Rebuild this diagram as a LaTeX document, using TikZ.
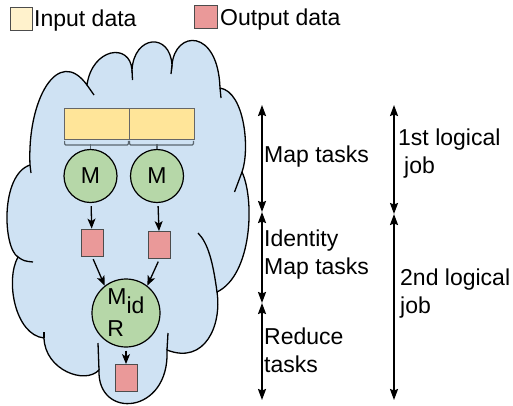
\documentclass[tikz,border=0pt]{standalone}
\usepackage{fontspec}
\setmainfont{Liberation Sans}
\usetikzlibrary{arrows.meta}
\definecolor{cloudblue}{HTML}{CFE2F3}
\definecolor{keyyellow}{HTML}{FFF2CC}
\definecolor{datayellow}{HTML}{FFE599}
\definecolor{outred}{HTML}{EA9999}
\definecolor{taskgreen}{HTML}{B6D7A8}
\definecolor{bracketgray}{HTML}{5B6770}
\begin{document}
\begin{tikzpicture}[x=1pt, y=1pt,
  font=\fontsize{23}{27.5}\selectfont,
  label/.style={anchor=base west, inner sep=0, align=left},
  datain/.style={draw=black!60, line width=0.8pt, fill=datayellow, minimum width=65pt, minimum height=31pt, inner sep=0},
  dataout/.style={draw=black!70, line width=0.8pt, fill=outred, minimum width=22pt, minimum height=27pt, inner sep=0},
  task/.style={circle, draw, line width=1.2pt, fill=taskgreen, inner sep=0, align=left},
  flow/.style={-{Stealth[length=10pt, width=8pt, inset=2.5pt]}, line width=1.3pt, shorten <=3pt},
  span/.style={{Stealth[length=11pt, width=8pt, inset=1.5pt]}-{Stealth[length=11pt, width=8pt, inset=1.5pt]}, line width=1.6pt},
  bracket/.style={draw=bracketgray, line width=1.2pt, rounded corners=1pt}]
\useasboundingbox (0,0) rectangle (513,-405);

% legend
\node[draw=black!70, line width=0.8pt, fill=keyyellow, minimum width=22pt, minimum height=23pt, inner sep=0] (keyin) at (21,-18.5) {};
\node[label] (keyintext) at (34,-26) {Input data};
\node[dataout, minimum height=23pt, minimum width=23pt] (keyout) at (205.5,-16.5) {};
\node[label] (keyouttext) at (220,-25) {Output data};

% cloud
\draw[fill=cloudblue, line width=1.3pt] (30,-165)
  .. controls (27,-100) and (58,-45) .. (87,-85)
  .. controls (92,-48) and (130,-42) .. (132,-70)
  .. controls (134,-35) and (170,-32) .. (172,-65)
  .. controls (175,-30) and (218,-28) .. (220,-88)
  .. controls (245,-92) and (250,-150) .. (242,-172)
  .. controls (255,-200) and (252,-275) .. (217,-292)
  .. controls (222,-325) and (205,-365) .. (167,-350)
  .. controls (170,-415) and (97,-420) .. (99,-370)
  .. controls (85,-385) and (45,-370) .. (44,-338)
  .. controls (15,-335) and (5,-280) .. (18,-257)
  .. controls (3,-248) and (0,-175) .. (30,-165) -- cycle;
\draw[line width=1.3pt] (30,-165) -- (31,-173);
\draw[line width=1.3pt] (87,-85) -- (94,-95);
\draw[line width=1.3pt] (132,-70) -- (132.5,-80);
\draw[line width=1.3pt] (172,-65) -- (171,-74);
\draw[line width=1.3pt] (220,-88) -- (221,-98);
\draw[line width=1.3pt] (242,-172) -- (234.5,-192);
\draw[line width=1.3pt] (217,-292) .. controls (213,-262) and (208,-243) .. (198,-233);
\draw[line width=1.3pt] (167,-350) -- (168,-333);
\draw[line width=1.3pt] (99,-370) -- (98,-343);
\draw[line width=1.3pt] (44,-338) -- (44,-332);
\draw[line width=1.3pt] (18,-257) .. controls (24,-261) .. (33,-262);

% input splits
\node[datain] (in1) at (96.5,-123.5) {};
\node[datain] (in2) at (161.5,-123.5) {};

% tasks
\node[task, minimum size=53pt] (m1) at (90.5,-176) {M};
\node[task, minimum size=53pt] (m2) at (157,-176) {M};
\node[task, minimum size=68pt] (mr) at (126,-313) {M\raisebox{-9pt}{id}\\[4.5pt]R};

\draw[bracket] ([xshift=1pt, yshift=-1.5pt]in1.south west) |- ([xshift=-1pt, yshift=-5.5pt]in1.south east) -- ([xshift=-1pt, yshift=-1.5pt]in1.south east);
\draw[bracket] ([xshift=1pt, yshift=-1.5pt]in2.south west) |- ([xshift=-1pt, yshift=-5.5pt]in2.south east) -- ([xshift=-1pt, yshift=-1.5pt]in2.south east);
\draw[bracket] (m1.north) -- ++(0,5);
\draw[bracket] (m2.north) -- ++(0,5);

% intermediate and final outputs
\node[dataout] (o1) at (92,-242.5) {};
\node[dataout] (o2) at (159.5,-245) {};
\node[dataout] (o3) at (126,-378) {};

\draw[flow] (m1) -- (o1);
\draw[flow] (m2) -- (o2);
\draw[flow] (o1.south) -- (mr.128);
\draw[flow] (o2.south) -- (mr.52);
\draw[flow] (mr) -- (o3);

% phases
\coordinate (a0) at (262,-105);
\coordinate (a1) at (262,-212);
\coordinate (a2) at (262,-303);
\coordinate (a3) at (262,-400);
\coordinate (b0) at (394,-105);
\coordinate (b1) at (394,-214);
\coordinate (b2) at (394,-400);
\draw[span] (a0) -- (a1);
\draw[span] (a1) -- (a2);
\draw[span] (a2) -- (a3);
\draw[span] (b0) -- (b1);
\draw[span] (b1) -- (b2);

\node[label] (maptext) at (264,-162) {Map tasks};
\node[label] (idtext) at (264,-274) {Identity\\Map tasks};
\node[label] (redtext) at (264,-372) {Reduce\\tasks};
\node[label] (job1text) at (398,-173) {1st logical\\\hspace*{6pt}job};
\node[label] (job2text) at (400,-313) {2nd logical\\job};
\end{tikzpicture}
\end{document}
